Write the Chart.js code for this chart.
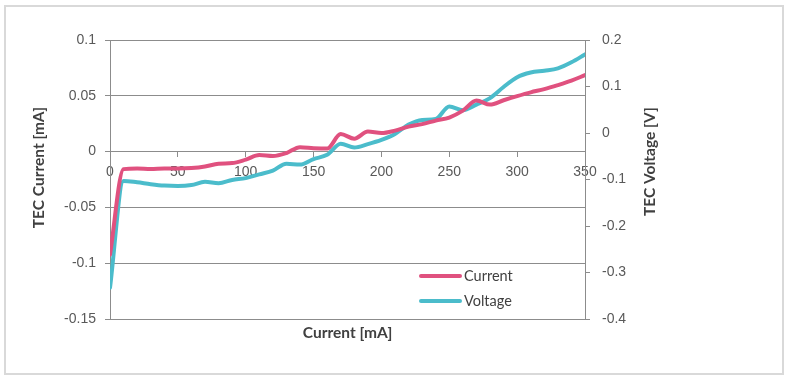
<!DOCTYPE html>
<html><head><meta charset="utf-8">
<script src="https://cdn.jsdelivr.net/npm/chart.js@4/dist/chart.umd.min.js"></script>
<style>html,body{margin:0;padding:0;background:#fff;}#wrap{position:relative;width:787px;height:379px;}</style>
</head><body><div id="wrap"><canvas id="c" width="787" height="379"></canvas></div>
<script>
// Data
const currentMA = [0,10,20,30,40,50,60,70,80,90,100,110,120,130,140,150,160,170,180,190,200,210,220,230,240,250,260,270,280,290,300,310,320,330,340,350];
const tecCurrent = [-0.0923,-0.0157,-0.0152,-0.0157,-0.0152,-0.0152,-0.0148,-0.0134,-0.0108,-0.0103,-0.0072,-0.0031,-0.0040,-0.0013,0.0040,0.0031,0.0027,0.0157,0.0116,0.0179,0.0166,0.0188,0.0224,0.0246,0.0278,0.0305,0.0367,0.0457,0.0421,0.0460,0.0497,0.0531,0.0560,0.0596,0.0636,0.0685];
const tecVoltage = [-0.333,-0.103,-0.106,-0.110,-0.113,-0.114,-0.112,-0.105,-0.108,-0.101,-0.097,-0.089,-0.081,-0.066,-0.068,-0.056,-0.047,-0.023,-0.031,-0.024,-0.015,-0.002,0.018,0.028,0.030,0.057,0.049,0.061,0.075,0.099,0.120,0.130,0.134,0.139,0.152,0.169];
const seriesNames = ['Current','Voltage'];
const xTickValues = [0,50,100,150,200,250,300,350];
const leftTickValues = [-0.15,-0.1,-0.05,0,0.05,0.1];
const leftTickLabels = ['-0.15','-0.1','-0.05','0','0.05','0.1'];
const rightTickValues = [-0.4,-0.3,-0.2,-0.1,0,0.1,0.2];
const rightTickLabels = ['-0.4','-0.3','-0.2','-0.1','0','0.1','0.2'];
const xTitle = 'Current [mA]';
const leftTitle = 'TEC Current [mA]';
const rightTitle = 'TEC Voltage [V]';

const PINK = '#e0517f';
const TEAL = '#4bbccb';
const GRID = '#8c8c8c';
const TICKC = '#595959';
const TITLE_FONT = 'bold 15.5px Lato';

const setTicks = vals => scale => { scale.ticks = vals.map(v => ({value: v})); };
const labelFrom = (vals, labels) => (v) => {
  const i = vals.findIndex(t => Math.abs(t - v) < 1e-9);
  return i >= 0 ? labels[i] : '';
};

const framePlugin = {
  id: 'frame',
  beforeDraw(chart) {
    const ctx = chart.ctx;
    ctx.save();
    ctx.fillStyle = '#fff';
    ctx.fillRect(0, 0, chart.width, chart.height);
    ctx.strokeStyle = '#d9d9d9';
    ctx.lineWidth = 2;
    ctx.strokeRect(5, 6, 778, 368);
    ctx.restore();
  }
};

const titlePlugin = {
  id: 'ytitles',
  afterDraw(chart) {
    const ctx = chart.ctx;
    const a = chart.chartArea;
    ctx.save();
    ctx.font = TITLE_FONT;
    ctx.fillStyle = '#404040';
    ctx.textAlign = 'center';
    ctx.textBaseline = 'middle';
    ctx.save();
    ctx.translate(a.left - 71, (a.top + a.bottom) / 2 - 12);
    ctx.rotate(-Math.PI / 2);
    ctx.fillText(leftTitle, 0, 0);
    ctx.restore();
    ctx.save();
    ctx.translate(a.right + 65, (a.top + a.bottom) / 2 - 18);
    ctx.rotate(-Math.PI / 2);
    ctx.fillText(rightTitle, 0, 0);
    ctx.restore();
    ctx.restore();
  }
};

const legendPlugin = {
  id: 'inlegend',
  afterDatasetsDraw(chart) {
    const ctx = chart.ctx;
    const a = chart.chartArea;
    ctx.save();
    chart.data.datasets.forEach((ds, i) => {
      const y = a.top + 236 + i * 25;
      ctx.strokeStyle = ds.borderColor;
      ctx.lineWidth = 4;
      ctx.lineCap = 'round';
      ctx.beginPath();
      ctx.moveTo(a.left + 311, y);
      ctx.lineTo(a.left + 350, y);
      ctx.stroke();
      ctx.fillStyle = '#404040';
      ctx.font = '14.5px Lato';
      ctx.textAlign = 'left';
      ctx.textBaseline = 'middle';
      ctx.fillText(ds.label, a.left + 354, y);
    });
    ctx.restore();
  }
};

const pts = vals => currentMA.map((x, i) => ({x: x, y: vals[i]}));

new Chart(document.getElementById('c'), {
  type: 'line',
  data: {
    datasets: [
      {label: seriesNames[0], data: pts(tecCurrent), yAxisID: 'y', xAxisID: 'x', borderColor: PINK, backgroundColor: PINK, borderWidth: 4, pointRadius: 0, cubicInterpolationMode: 'monotone', borderCapStyle: 'round', borderJoinStyle: 'round', fill: false},
      {label: seriesNames[1], data: pts(tecVoltage), yAxisID: 'y2', xAxisID: 'x', borderColor: TEAL, backgroundColor: TEAL, borderWidth: 4, pointRadius: 0, cubicInterpolationMode: 'monotone', borderCapStyle: 'round', borderJoinStyle: 'round', fill: false}
    ]
  },
  options: {
    responsive: false,
    animation: false,
    devicePixelRatio: 1,
    layout: {padding: {top: 40, left: 0, right: 0, bottom: 0}},
    plugins: {legend: {display: false}, tooltip: {enabled: false}},
    scales: {
      x: {
        type: 'linear', position: {y: 0}, min: 0, max: 350,
        afterBuildTicks: setTicks(xTickValues),
        grid: {drawOnChartArea: false, drawTicks: true, tickLength: 5, color: GRID},
        border: {display: true, color: GRID, width: 1},
        ticks: {font: {family: 'Liberation Sans', size: 14}, color: TICKC, padding: 7, maxRotation: 0, callback: v => String(v)}
      },
      x2: {
        type: 'linear', position: 'bottom', min: 0, max: 350,
        afterFit: s => { s.height = 60; },
        grid: {display: false}, border: {display: false},
        ticks: {display: false},
        title: {display: true, text: xTitle, font: {family: 'Lato', size: 15.5, weight: 'bold'}, color: '#404040', padding: {top: 0, bottom: 37}}
      },
      y: {
        type: 'linear', position: 'left', min: -0.15, max: 0.1,
        afterBuildTicks: setTicks(leftTickValues),
        afterFit: s => { s.width = 110; },
        grid: {color: GRID, tickLength: 5, drawTicks: true},
        border: {display: true, color: GRID},
        ticks: {font: {family: 'Liberation Sans', size: 14}, color: TICKC, padding: 9, callback: labelFrom(leftTickValues, leftTickLabels)}
      },
      y2: {
        type: 'linear', position: 'right', min: -0.4, max: 0.2,
        afterBuildTicks: setTicks(rightTickValues),
        afterFit: s => { s.width = 202; },
        grid: {drawOnChartArea: false, color: GRID, tickLength: 5},
        border: {display: true, color: GRID},
        ticks: {font: {family: 'Liberation Sans', size: 14}, color: TICKC, padding: 12, callback: labelFrom(rightTickValues, rightTickLabels)}
      }
    }
  },
  plugins: [framePlugin, titlePlugin, legendPlugin]
});
</script></body></html>
